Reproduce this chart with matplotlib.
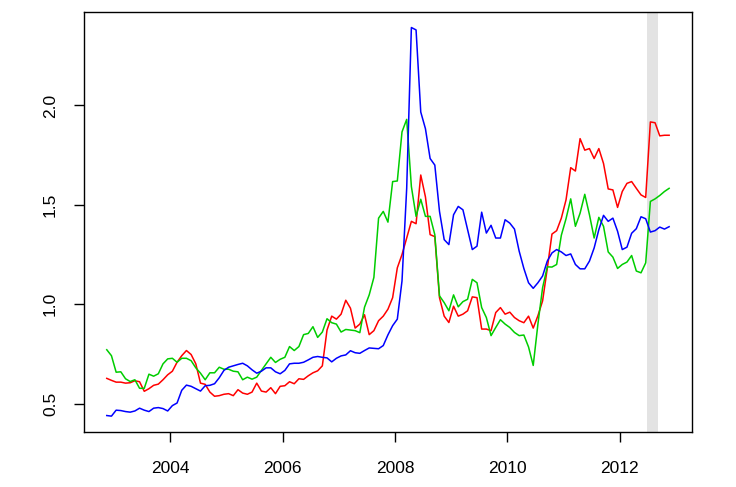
import numpy as np
import matplotlib
matplotlib.use('Agg')
import matplotlib.pyplot as plt

plt.rcParams['font.family'] = ['Liberation Sans', 'DejaVu Sans']

# monthly series, starting late 2002
start_year = 2002.875
red_vals = [0.627, 0.617, 0.608, 0.608, 0.603, 0.605, 0.615, 0.61, 0.562, 0.575,
            0.592, 0.598, 0.62, 0.645, 0.663, 0.708, 0.741, 0.767, 0.747, 0.70,
            0.603, 0.597, 0.558, 0.537, 0.54, 0.547, 0.55, 0.54, 0.57, 0.553,
            0.547, 0.558, 0.603, 0.563, 0.558, 0.58, 0.55, 0.587, 0.59, 0.61,
            0.6, 0.625, 0.622, 0.64, 0.655, 0.665, 0.69, 0.87, 0.94, 0.925,
            0.95, 1.02, 0.98, 0.88, 0.9, 0.947, 0.847, 0.867, 0.917, 0.94,
            0.975, 1.033, 1.183, 1.25, 1.333, 1.417, 1.405, 1.65, 1.54, 1.35,
            1.34, 1.033, 0.94, 0.908, 0.99, 0.94, 0.95, 0.967, 1.037, 1.033,
            0.875, 0.875, 0.867, 0.958, 0.983, 0.95, 0.96, 0.933, 0.917, 0.907,
            0.94, 0.88, 0.942, 1.017, 1.18, 1.353, 1.37, 1.433, 1.525, 1.687,
            1.67, 1.833, 1.775, 1.783, 1.733, 1.783, 1.708, 1.58, 1.575, 1.487,
            1.567, 1.608, 1.617, 1.583, 1.55, 1.537, 1.917, 1.913, 1.847, 1.85,
            1.85]
green_vals = [0.771, 0.741, 0.658, 0.66, 0.625, 0.611, 0.62, 0.577, 0.577, 0.648,
              0.638, 0.65, 0.70, 0.725, 0.728, 0.708, 0.728, 0.728, 0.716, 0.68,
              0.653, 0.62, 0.655, 0.655, 0.683, 0.673, 0.673, 0.663, 0.66, 0.62,
              0.633, 0.623, 0.633, 0.667, 0.70, 0.733, 0.707, 0.723, 0.733, 0.787,
              0.767, 0.787, 0.847, 0.853, 0.887, 0.833, 0.86, 0.927, 0.907, 0.9,
              0.86, 0.873, 0.87, 0.867, 0.857, 0.985, 1.047, 1.135, 1.433, 1.467,
              1.413, 1.617, 1.62, 1.867, 1.93, 1.592, 1.442, 1.528, 1.442, 1.442,
              1.35, 1.042, 1.008, 0.967, 1.047, 0.987, 1.013, 1.025, 1.125, 1.108,
              0.983, 0.933, 0.842, 0.883, 0.922, 0.9, 0.883, 0.858, 0.842, 0.845,
              0.785, 0.692, 0.9, 1.083, 1.188, 1.187, 1.2, 1.347, 1.43, 1.53,
              1.392, 1.458, 1.553, 1.45, 1.333, 1.437, 1.392, 1.263, 1.237, 1.18,
              1.2, 1.212, 1.245, 1.167, 1.158, 1.208, 1.517, 1.53, 1.547, 1.567,
              1.583]
blue_vals = [0.44, 0.437, 0.467, 0.465, 0.46, 0.457, 0.463, 0.477, 0.467, 0.46,
             0.477, 0.48, 0.475, 0.463, 0.49, 0.503, 0.567, 0.593, 0.587, 0.575,
             0.563, 0.59, 0.592, 0.6, 0.63, 0.667, 0.683, 0.69, 0.697, 0.703,
             0.69, 0.67, 0.653, 0.663, 0.68, 0.68, 0.66, 0.65, 0.667, 0.7,
             0.703, 0.703, 0.708, 0.72, 0.733, 0.737, 0.733, 0.73, 0.71, 0.728,
             0.74, 0.745, 0.766, 0.756, 0.753, 0.767, 0.78, 0.778, 0.776, 0.792,
             0.846, 0.892, 0.925, 1.117, 1.583, 2.392, 2.38, 1.967, 1.883, 1.733,
             1.7, 1.467, 1.325, 1.3, 1.45, 1.492, 1.475, 1.375, 1.275, 1.292,
             1.463, 1.358, 1.397, 1.333, 1.333, 1.425, 1.408, 1.378, 1.267, 1.18,
             1.108, 1.08, 1.108, 1.142, 1.217, 1.258, 1.275, 1.263, 1.245, 1.253,
             1.2, 1.178, 1.178, 1.217, 1.283, 1.375, 1.447, 1.417, 1.433, 1.367,
             1.275, 1.287, 1.357, 1.38, 1.44, 1.43, 1.363, 1.37, 1.388, 1.378,
             1.39]
shade_span = (2012.48, 2012.68)
x_ticks = [2004, 2006, 2008, 2010, 2012]
y_ticks = [0.5, 1.0, 1.5, 2.0]

years = start_year + np.arange(len(red_vals)) / 12.0

fig = plt.figure(figsize=(7.36, 4.87), dpi=100)
ax = fig.add_axes([0.1145, 0.1136, 0.8252, 0.8618])

ax.axvspan(shade_span[0], shade_span[1], color='#e3e3e3', lw=0, zorder=0)
ax.plot(years, red_vals, color='red', lw=1.1)
ax.plot(years, green_vals, color='#00cd00', lw=1.1)
ax.plot(years, blue_vals, color='blue', lw=1.1)

# R-style 4% padding on both axes
all_vals = np.concatenate([red_vals, green_vals, blue_vals])
xr = years[-1] - years[0]
yr = all_vals.max() - all_vals.min()
ax.set_xlim(years[0] - 0.04 * xr, years[-1] + 0.04 * xr)
ax.set_ylim(all_vals.min() - 0.04 * yr, all_vals.max() + 0.04 * yr)

ax.set_xticks(x_ticks)
ax.set_xticklabels([str(t) for t in x_ticks])
ax.set_yticks(y_ticks)
ax.set_yticklabels(['%.1f' % t for t in y_ticks], rotation=90, va='center')
ax.tick_params(direction='out', length=7, width=1, labelsize=12.5)
ax.tick_params(axis='x', pad=14)
ax.tick_params(axis='y', pad=12)
for s in ax.spines.values():
    s.set_linewidth(1)

fig.savefig('out.png', dpi=100)
